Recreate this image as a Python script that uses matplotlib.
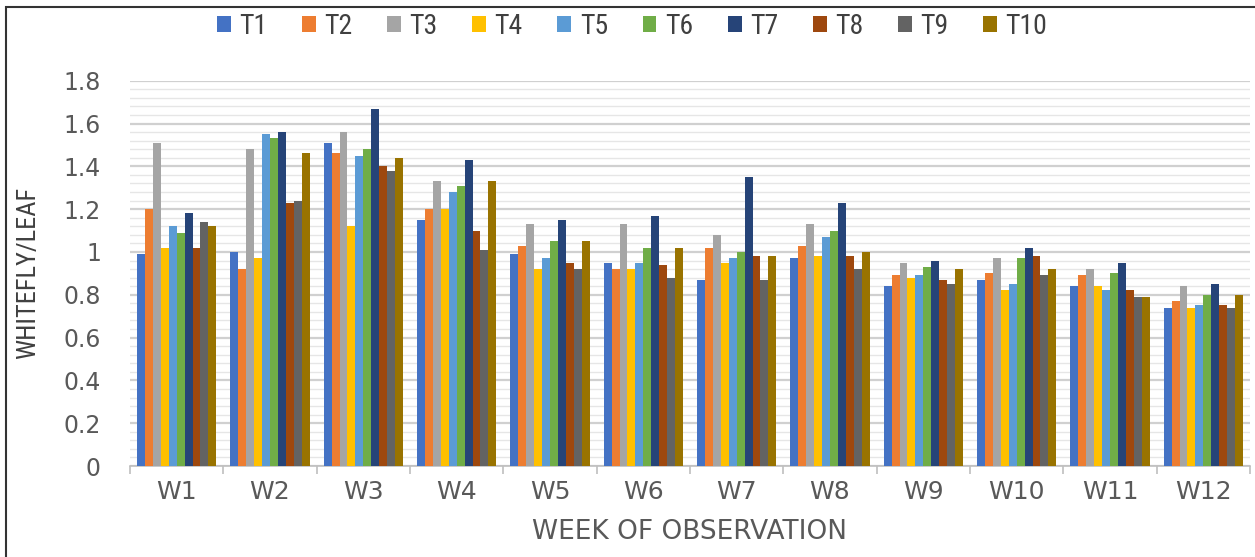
import matplotlib
matplotlib.use("Agg")
import matplotlib.pyplot as plt
import numpy as np
from matplotlib.patches import Rectangle
from matplotlib.ticker import MultipleLocator, FixedLocator

weeks = ["W1", "W2", "W3", "W4", "W5", "W6", "W7", "W8", "W9", "W10", "W11", "W12"]
treatments = ["T1", "T2", "T3", "T4", "T5", "T6", "T7", "T8", "T9", "T10"]

T1 = [0.99, 1.00, 1.51, 1.15, 0.99, 0.95, 0.87, 0.97, 0.84, 0.87, 0.84, 0.74]
T2 = [1.20, 0.92, 1.46, 1.20, 1.03, 0.92, 1.02, 1.03, 0.89, 0.90, 0.89, 0.77]
T3 = [1.51, 1.48, 1.56, 1.33, 1.13, 1.13, 1.08, 1.13, 0.95, 0.97, 0.92, 0.84]
T4 = [1.02, 0.97, 1.12, 1.20, 0.92, 0.92, 0.95, 0.98, 0.88, 0.82, 0.84, 0.74]
T5 = [1.12, 1.55, 1.45, 1.28, 0.97, 0.95, 0.97, 1.07, 0.89, 0.85, 0.82, 0.75]
T6 = [1.09, 1.53, 1.48, 1.31, 1.05, 1.02, 1.00, 1.10, 0.93, 0.97, 0.90, 0.80]
T7 = [1.18, 1.56, 1.67, 1.43, 1.15, 1.17, 1.35, 1.23, 0.96, 1.02, 0.95, 0.85]
T8 = [1.02, 1.23, 1.40, 1.10, 0.95, 0.94, 0.98, 0.98, 0.87, 0.98, 0.82, 0.75]
T9 = [1.14, 1.24, 1.38, 1.01, 0.92, 0.88, 0.87, 0.92, 0.85, 0.89, 0.79, 0.74]
T10 = [1.12, 1.46, 1.44, 1.33, 1.05, 1.02, 0.98, 1.00, 0.92, 0.92, 0.79, 0.80]
series = [T1, T2, T3, T4, T5, T6, T7, T8, T9, T10]

colors = ["#4472C4", "#ED7D31", "#A5A5A5", "#FFC000", "#5B9BD5",
          "#70AD47", "#264478", "#9E480E", "#636363", "#997300"]

W, H = 1255, 557
fig = plt.figure(figsize=(W / 100, H / 100), dpi=100)
ax = fig.add_axes([130 / W, 1 - 466 / H, 1120 / W, (466 - 80.7) / H])

n = len(treatments)
group_w = 0.85
bw = group_w / n
x = np.arange(len(weeks))
for i, (name, vals, c) in enumerate(zip(treatments, series, colors)):
    ax.bar(x - group_w / 2 + bw * (i + 0.5), vals, width=bw, color=c,
           label=name, zorder=3, linewidth=0)

ax.set_xlim(-0.5, len(weeks) - 0.5)
ax.set_ylim(0, 1.8)
ax.yaxis.set_major_locator(MultipleLocator(0.2))
ax.yaxis.set_minor_locator(MultipleLocator(0.04))
ax.grid(axis="y", which="major", color="#D0D0D0", linewidth=1.6, zorder=0)
ax.grid(axis="y", which="minor", color="#E6E6E6", linewidth=1.0, zorder=0)
ax.set_axisbelow(True)

ytick_vals = [0, 0.2, 0.4, 0.6, 0.8, 1, 1.2, 1.4, 1.6, 1.8]
ax.set_yticks(ytick_vals)
ax.set_yticklabels([("%g" % v) for v in ytick_vals])

ax.set_xticks(x)
ax.set_xticklabels(weeks)
ax.xaxis.set_minor_locator(FixedLocator(np.arange(-0.5, len(weeks), 1.0)))

for s in ["top", "right", "left"]:
    ax.spines[s].set_visible(False)
ax.spines["bottom"].set_color("#BFBFBF")
ax.spines["bottom"].set_linewidth(1.2)

tickfont = ["DejaVu Sans"]
ax.tick_params(axis="y", which="both", length=0, pad=21, labelsize=17,
               labelcolor="#595959")
ax.tick_params(axis="x", which="major", length=0, pad=10, labelsize=18,
               labelcolor="#595959")
ax.tick_params(axis="x", which="minor", length=6, width=1.2, color="#BFBFBF")
for lab in ax.get_xticklabels() + ax.get_yticklabels():
    lab.set_family(tickfont)

narrow = ["Roboto Condensed", "Roboto", "DejaVu Sans"]
ax.set_ylabel("WHITEFLY/LEAF", fontsize=19, color="#404040", family=narrow)
ax.yaxis.set_label_coords(-(130 - 40) / 1120, 0.5)
ax.set_xlabel("WEEK OF OBSERVATION", fontsize=19, color="#595959",
              family=tickfont, labelpad=11)

leg = fig.legend(loc="center", bbox_to_anchor=(632 / W, 1 - 26 / H), ncol=10,
                 frameon=False, handlelength=0.5, handleheight=0.5,
                 handletextpad=0.3, columnspacing=1.25,
                 prop={"family": narrow, "size": 20})
for t in leg.get_texts():
    t.set_color("#404040")

fig.patches.append(Rectangle((6 / W, -0.1), 1.2, 1 - 7 / H + 0.1,
                             transform=fig.transFigure, fill=False,
                             edgecolor="#333333", linewidth=1.5, zorder=10))

fig.savefig("out.png", dpi=100, facecolor="white")
